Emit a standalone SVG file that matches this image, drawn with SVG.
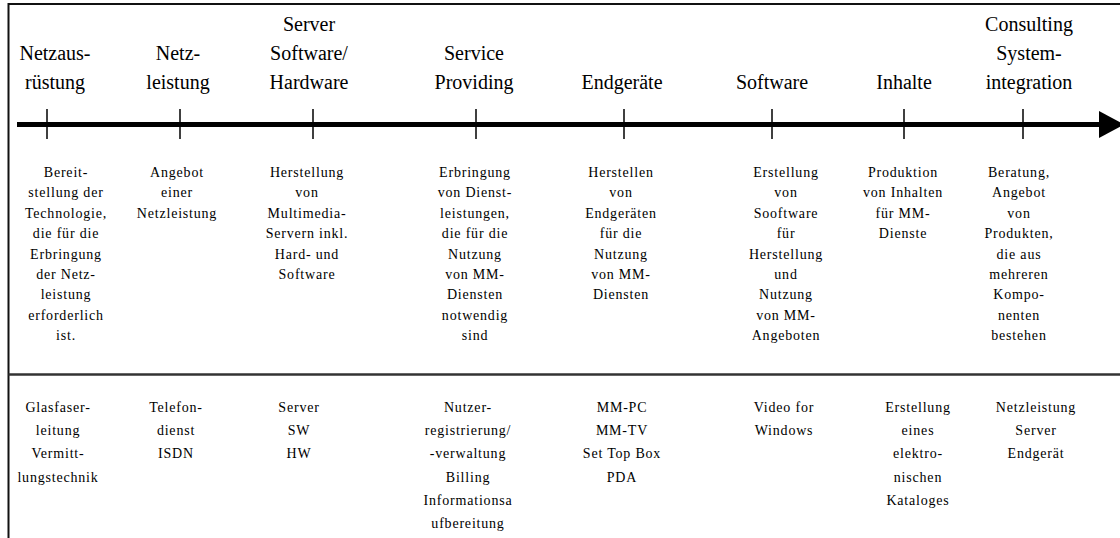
<svg xmlns="http://www.w3.org/2000/svg" width="1120" height="538" viewBox="0 0 1120 538">
<style>
.h{font-family:"Liberation Serif","Times New Roman",serif;font-size:20px;fill:#000;text-anchor:middle}
.t{font-family:"Liberation Serif","Times New Roman",serif;font-size:14px;fill:#000;text-anchor:middle;letter-spacing:0.8px}
.tick{stroke:#000;stroke-width:1.5}
.frame{stroke:#111;stroke-width:2;fill:none}
</style>
<rect width="1120" height="538" fill="#fff"/>
<g id="frame">
<line class="frame" x1="8.5" y1="4" x2="1120" y2="4"/>
<line class="frame" x1="8.5" y1="3" x2="8.5" y2="538"/>
<line x1="8.5" y1="374.5" x2="1120" y2="374.5" stroke="#333" stroke-width="2.5"/>
</g>
<g id="connectors">
<line x1="17" y1="124.5" x2="1100" y2="124.5" stroke="#000" stroke-width="5"/>
<polygon points="1099,111 1124,124.5 1099,138" fill="#000"/>
</g>
<g id="col-netzausruestung">
<line class="tick" x1="47" y1="109" x2="47" y2="139"/>
<text class="h" x="55"><tspan x="55" y="60">Netzaus-</tspan><tspan x="55" y="89">rüstung</tspan></text>
<text class="t"><tspan x="66" y="177">Bereit-</tspan><tspan x="66" y="197.4">stellung der</tspan><tspan x="66" y="217.8">Technologie,</tspan><tspan x="66" y="238.2">die für die</tspan><tspan x="66" y="258.6">Erbringung</tspan><tspan x="66" y="279">der Netz-</tspan><tspan x="66" y="299.4">leistung</tspan><tspan x="66" y="319.8">erforderlich</tspan><tspan x="66" y="340.2">ist.</tspan></text>
<text class="t"><tspan x="58" y="412">Glasfaser-</tspan><tspan x="58" y="435.2">leitung</tspan><tspan x="58" y="458.4">Vermitt-</tspan><tspan x="58" y="481.6">lungstechnik</tspan></text>
</g>
<g id="col-netzleistung">
<line class="tick" x1="180" y1="109" x2="180" y2="139"/>
<text class="h"><tspan x="178" y="60">Netz-</tspan><tspan x="178" y="89">leistung</tspan></text>
<text class="t"><tspan x="177" y="177">Angebot</tspan><tspan x="177" y="197.4">einer</tspan><tspan x="177" y="217.8">Netzleistung</tspan></text>
<text class="t"><tspan x="176" y="412">Telefon-</tspan><tspan x="176" y="435.2">dienst</tspan><tspan x="176" y="458.4">ISDN</tspan></text>
</g>
<g id="col-server">
<line class="tick" x1="313" y1="109" x2="313" y2="139"/>
<text class="h"><tspan x="309" y="31">Server</tspan><tspan x="309" y="60">Software/</tspan><tspan x="309" y="89">Hardware</tspan></text>
<text class="t"><tspan x="307" y="177">Herstellung</tspan><tspan x="307" y="197.4">von</tspan><tspan x="307" y="217.8">Multimedia-</tspan><tspan x="307" y="238.2">Servern inkl.</tspan><tspan x="307" y="258.6">Hard- und</tspan><tspan x="307" y="279">Software</tspan></text>
<text class="t"><tspan x="299" y="412">Server</tspan><tspan x="299" y="435.2">SW</tspan><tspan x="299" y="458.4">HW</tspan></text>
</g>
<g id="col-service">
<line class="tick" x1="476" y1="109" x2="476" y2="139"/>
<text class="h"><tspan x="474" y="60">Service</tspan><tspan x="474" y="89">Providing</tspan></text>
<text class="t"><tspan x="475" y="177">Erbringung</tspan><tspan x="475" y="197.4">von Dienst-</tspan><tspan x="475" y="217.8">leistungen,</tspan><tspan x="475" y="238.2">die für die</tspan><tspan x="475" y="258.6">Nutzung</tspan><tspan x="475" y="279">von MM-</tspan><tspan x="475" y="299.4">Diensten</tspan><tspan x="475" y="319.8">notwendig</tspan><tspan x="475" y="340.2">sind</tspan></text>
<text class="t"><tspan x="468" y="412">Nutzer-</tspan><tspan x="468" y="435.2">registrierung/</tspan><tspan x="468" y="458.4">-verwaltung</tspan><tspan x="468" y="481.6">Billing</tspan><tspan x="468" y="504.8">Informationsa</tspan><tspan x="468" y="528">ufbereitung</tspan></text>
</g>
<g id="col-endgeraete">
<line class="tick" x1="624" y1="109" x2="624" y2="139"/>
<text class="h"><tspan x="622" y="89">Endgeräte</tspan></text>
<text class="t"><tspan x="621" y="177">Herstellen</tspan><tspan x="621" y="197.4">von</tspan><tspan x="621" y="217.8">Endgeräten</tspan><tspan x="621" y="238.2">für die</tspan><tspan x="621" y="258.6">Nutzung</tspan><tspan x="621" y="279">von MM-</tspan><tspan x="621" y="299.4">Diensten</tspan></text>
<text class="t"><tspan x="622" y="412">MM-PC</tspan><tspan x="622" y="435.2">MM-TV</tspan><tspan x="622" y="458.4">Set Top Box</tspan><tspan x="622" y="481.6">PDA</tspan></text>
</g>
<g id="col-software">
<line class="tick" x1="772" y1="109" x2="772" y2="139"/>
<text class="h"><tspan x="772" y="89">Software</tspan></text>
<text class="t"><tspan x="786" y="177">Erstellung</tspan><tspan x="786" y="197.4">von</tspan><tspan x="786" y="217.8">Sooftware</tspan><tspan x="786" y="238.2">für</tspan><tspan x="786" y="258.6">Herstellung</tspan><tspan x="786" y="279">und</tspan><tspan x="786" y="299.4">Nutzung</tspan><tspan x="786" y="319.8">von MM-</tspan><tspan x="786" y="340.2">Angeboten</tspan></text>
<text class="t"><tspan x="784" y="412">Video for</tspan><tspan x="784" y="435.2">Windows</tspan></text>
</g>
<g id="col-inhalte">
<line class="tick" x1="904" y1="109" x2="904" y2="139"/>
<text class="h"><tspan x="904" y="89">Inhalte</tspan></text>
<text class="t"><tspan x="903" y="177">Produktion</tspan><tspan x="903" y="197.4">von Inhalten</tspan><tspan x="903" y="217.8">für MM-</tspan><tspan x="903" y="238.2">Dienste</tspan></text>
<text class="t"><tspan x="918" y="412">Erstellung</tspan><tspan x="918" y="435.2">eines</tspan><tspan x="918" y="458.4">elektro-</tspan><tspan x="918" y="481.6">nischen</tspan><tspan x="918" y="504.8">Kataloges</tspan></text>
</g>
<g id="col-consulting">
<line class="tick" x1="1023" y1="109" x2="1023" y2="139"/>
<text class="h"><tspan x="1029" y="31">Consulting</tspan><tspan x="1029" y="60">System-</tspan><tspan x="1029" y="89">integration</tspan></text>
<text class="t"><tspan x="1019" y="177">Beratung,</tspan><tspan x="1019" y="197.4">Angebot</tspan><tspan x="1019" y="217.8">von</tspan><tspan x="1019" y="238.2">Produkten,</tspan><tspan x="1019" y="258.6">die aus</tspan><tspan x="1019" y="279">mehreren</tspan><tspan x="1019" y="299.4">Kompo-</tspan><tspan x="1019" y="319.8">nenten</tspan><tspan x="1019" y="340.2">bestehen</tspan></text>
<text class="t"><tspan x="1036" y="412">Netzleistung</tspan><tspan x="1036" y="435.2">Server</tspan><tspan x="1036" y="458.4">Endgerät</tspan></text>
</g>
</svg>
